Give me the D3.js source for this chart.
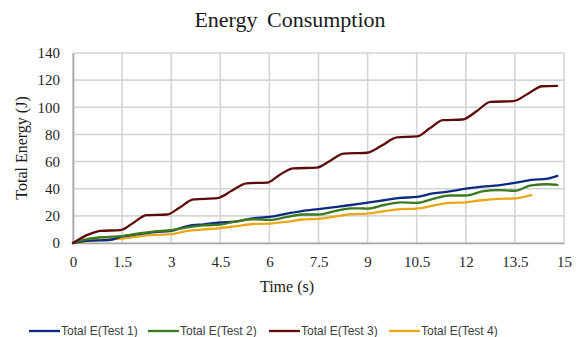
<!DOCTYPE html>
<html>
<head>
<meta charset="utf-8">
<script src="https://cdn.jsdelivr.net/npm/d3@7/dist/d3.min.js"></script>
<style>
  html, body { margin: 0; padding: 0; background: #fff; }
  svg { display: block; }
</style>
</head>
<body>
<svg id="chart" width="579" height="337"></svg>
<script>
// Energy data, time in seconds and cumulative energy in joules
const test1Time = [0, 0.5, 1.1, 1.5, 2.0, 2.5, 3.0, 3.5, 4.0, 4.5, 5.0, 5.5, 6.0, 6.5, 7.0, 7.5, 8.0, 8.5, 9.0, 9.5, 10.0, 10.5, 11.0, 11.5, 12.0, 12.5, 13.0, 13.5, 14.0, 14.5, 14.8];
const test1Energy = [0, 1.8, 2.2, 4.8, 6.5, 8, 9, 12.5, 13.8, 15.1, 16, 18.2, 19.2, 21.5, 23.5, 25, 26.5, 28, 29.8, 31.5, 33.2, 34, 36.5, 38, 40, 41.5, 42.5, 44.3, 46.5, 47.5, 49.5];

const test2Time = [0, 0.5, 1.0, 1.5, 2.0, 2.5, 3.0, 3.5, 4.0, 4.5, 5.0, 5.5, 6.0, 6.5, 7.0, 7.5, 8.0, 8.5, 9.0, 9.5, 10.0, 10.5, 11.0, 11.5, 12.0, 12.5, 13.0, 13.5, 14.0, 14.5, 14.8];
const test2Energy = [0, 3.2, 4.4, 5, 7, 8.5, 9.4, 11.5, 13, 13.6, 16, 17.5, 17, 19, 21, 21, 23.5, 25.5, 25.4, 28, 30, 29.5, 32.5, 35, 35, 38, 39, 38.5, 42.5, 43.3, 42.8];

const test3Time = [0, 0.5, 0.85, 1.45, 1.85, 2.25, 2.87, 3.25, 3.68, 4.4, 4.85, 5.3, 5.93, 6.3, 6.73, 7.45, 7.85, 8.26, 8.98, 9.45, 9.9, 10.5, 10.9, 11.3, 11.9, 12.35, 12.75, 13.45, 13.9, 14.33, 14.79];
const test3Energy = [0, 6.5, 8.9, 9.5, 15, 20.5, 21, 26, 32.1, 33, 38.5, 44, 44.5, 50, 55, 55.5, 60.5, 65.8, 66.5, 72, 77.9, 78.5, 84.5, 90.5, 91, 97.5, 104, 104.5, 110, 115.5, 115.8];

const test4Time = [0, 0.5, 1.0, 1.5, 2.0, 2.5, 3.0, 3.5, 4.0, 4.5, 5.0, 5.5, 6.0, 6.5, 7.0, 7.5, 8.0, 8.5, 9.0, 9.5, 10.0, 10.5, 11.0, 11.5, 12.0, 12.5, 13.0, 13.5, 14.0];
const test4Energy = [0, 1.5, 2.7, 3.2, 4.8, 6, 6.5, 9, 10, 11, 12.5, 14, 14.3, 15.5, 17.3, 17.8, 19.5, 21.3, 21.7, 23.5, 25, 25.4, 27.5, 29.5, 30, 31.5, 32.5, 32.8, 35.2];

const seriesNames = ["Total E(Test 1)", "Total E(Test 2)", "Total E(Test 3)", "Total E(Test 4)"];
const seriesColors = ["#0d2b7e", "#3b7a1f", "#5e0b0b", "#eaa816"];

const xTicks = [0, 1.5, 3, 4.5, 6, 7.5, 9, 10.5, 12, 13.5, 15];
const yTicks = [0, 20, 40, 60, 80, 100, 120, 140];

const series = [
  { times: test1Time, values: test1Energy },
  { times: test2Time, values: test2Energy },
  { times: test3Time, values: test3Energy },
  { times: test4Time, values: test4Energy }
].map((s, i) => ({
  name: seriesNames[i],
  color: seriesColors[i],
  points: s.times.map((t, j) => [t, s.values[j]])
}));

const svg = d3.select("#chart");
const plot = { left: 73, right: 564, top: 53, bottom: 243 };

const x = d3.scaleLinear().domain([0, 15]).range([plot.left, plot.right]);
const y = d3.scaleLinear().domain([0, 140]).range([plot.bottom, plot.top]);

const serif = "'Liberation Serif', 'Times New Roman', serif";

// Title
svg.append("text")
  .attr("x", 290).attr("y", 27)
  .attr("text-anchor", "middle")
  .attr("font-family", serif)
  .attr("font-size", 22)
  .attr("word-spacing", 4)
  .attr("fill", "#1a1a1a")
  .text("Energy Consumption");

// Gridlines
const grid = svg.append("g");
grid.selectAll("line.h").data(yTicks).join("line")
  .attr("x1", plot.left).attr("x2", plot.right)
  .attr("y1", d => y(d)).attr("y2", d => y(d))
  .attr("stroke", "#d4d4d4").attr("stroke-width", 1.6);
grid.selectAll("line.v").data(xTicks).join("line")
  .attr("y1", plot.top).attr("y2", plot.bottom)
  .attr("x1", d => x(d)).attr("x2", d => x(d))
  .attr("stroke", "#d4d4d4").attr("stroke-width", 1.6);

// Axes
const xAxis = svg.append("g")
  .attr("transform", `translate(0,${plot.bottom})`)
  .call(d3.axisBottom(x).tickValues(xTicks).tickSize(0).tickPadding(13).tickFormat(d3.format("")));
xAxis.select(".domain").attr("stroke", "#a6a6a6").attr("stroke-width", 1.6);

const yAxis = svg.append("g")
  .attr("transform", `translate(${plot.left},0)`)
  .call(d3.axisLeft(y).tickValues(yTicks).tickSize(0).tickPadding(13));
yAxis.select(".domain").attr("stroke", "#a6a6a6").attr("stroke-width", 1.6);

svg.selectAll(".tick text")
  .attr("font-family", serif)
  .attr("font-size", 15)
  .attr("fill", "#262626");

// Axis titles
svg.append("text")
  .attr("x", 287).attr("y", 292)
  .attr("text-anchor", "middle")
  .attr("font-family", serif)
  .attr("font-size", 16)
  .attr("fill", "#1a1a1a")
  .text("Time (s)");

svg.append("text")
  .attr("transform", "translate(27,148) rotate(-90)")
  .attr("text-anchor", "middle")
  .attr("font-family", serif)
  .attr("font-size", 16)
  .attr("fill", "#1a1a1a")
  .text("Total Energy (J)");

// Lines
const line = d3.line()
  .x(d => x(d[0]))
  .y(d => y(d[1]))
  .curve(d3.curveMonotoneX);

svg.append("g").selectAll("path")
  .data([series[3], series[0], series[1], series[2]])
  .join("path")
  .attr("d", d => line(d.points))
  .attr("fill", "none")
  .attr("stroke", d => d.color)
  .attr("stroke-width", 2.3)
  .attr("stroke-linejoin", "round")
  .attr("stroke-linecap", "round");

// Legend
const legendX = [29, 148, 269, 389];
const legend = svg.append("g");
series.forEach((s, i) => {
  const g = legend.append("g").attr("transform", `translate(${legendX[i]},331)`);
  g.append("line")
    .attr("x1", 0).attr("x2", 31)
    .attr("y1", 0).attr("y2", 0)
    .attr("stroke", s.color).attr("stroke-width", 2.3);
  g.append("text")
    .attr("x", 32).attr("y", 0)
    .attr("dy", "0.35em")
    .attr("font-family", "'Liberation Sans', Arial, sans-serif")
    .attr("font-size", 12)
    .attr("fill", "#404040")
    .text(s.name);
});
</script>
</body>
</html>
